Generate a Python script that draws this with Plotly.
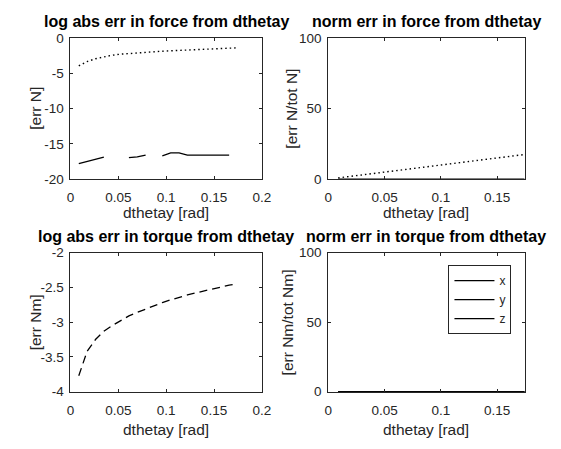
import math
import plotly.graph_objects as go

# ---------------- data ----------------
deg = [0.5, 1.0, 1.5, 2.0, 2.5, 3.0, 3.5, 4.0, 4.5, 5.0,
       5.5, 6.0, 6.5, 7.0, 7.5, 8.0, 8.5, 9.0, 9.5, 10.0]
dthetay = [d * math.pi / 180 for d in deg]

force_log_x = [-17.8, -17.5, -17.2, -16.9, None, None, -16.95, -16.85, -16.6, None,
               -16.7, -16.3, -16.3, -16.6, -16.6, -16.6, -16.6, -16.6, -16.6, None]
force_log_y = [-3.95, -3.35, -2.95, -2.65, -2.45, -2.3, -2.2, -2.1, -2.0, -1.95,
               -1.88, -1.82, -1.76, -1.7, -1.65, -1.6, -1.55, -1.5, -1.45, -1.4]

force_norm_x = [0.0] * 20
force_norm_y = [0.8, 1.7, 2.6, 3.5, 4.4, 5.2, 6.1, 7.0, 7.9, 8.7,
                9.6, 10.5, 11.3, 12.2, 13.1, 14.0, 14.8, 15.7, 16.6, 17.4]

torque_log = [-3.77, -3.42, -3.25, -3.13, -3.05, -2.98, -2.91, -2.86, -2.81, -2.76,
              -2.72, -2.68, -2.64, -2.61, -2.58, -2.55, -2.52, -2.50, -2.47, -2.45]

torque_norm_x = [0.0] * 20
torque_norm_y = [0.0] * 20
torque_norm_z = [0.0] * 20

titles = ["log abs err in force from dthetay", "norm err in force from dthetay",
          "log abs err in torque from dthetay", "norm err in torque from dthetay"]
ylabels = ["[err N]", "[err N/tot N]", "[err Nm]", "[err Nm/tot Nm]"]
xlabel = "dthetay [rad]"

# ---------------- layout geometry ----------------
W, H = 561, 449
def px(x): return x / W
def py(y): return 1 - y / H

fig = go.Figure()
BLACK = "#000000"

fig.add_trace(go.Scatter(x=dthetay, y=force_log_x, mode="lines", xaxis="x", yaxis="y",
                         line=dict(color=BLACK, width=1.3), showlegend=False, connectgaps=False))
fig.add_trace(go.Scatter(x=dthetay, y=force_log_y, mode="lines", xaxis="x", yaxis="y",
                         line=dict(color=BLACK, width=1.4, dash="1.5px,3px"), showlegend=False))

fig.add_trace(go.Scatter(x=dthetay, y=force_norm_x, mode="lines", xaxis="x2", yaxis="y2",
                         line=dict(color=BLACK, width=1.3), showlegend=False))
fig.add_trace(go.Scatter(x=dthetay, y=force_norm_y, mode="lines", xaxis="x2", yaxis="y2",
                         line=dict(color=BLACK, width=1.4, dash="1.5px,3px"), showlegend=False))

fig.add_trace(go.Scatter(x=dthetay, y=torque_log, mode="lines", xaxis="x3", yaxis="y3",
                         line=dict(color=BLACK, width=1.3, dash="8px,5px"), showlegend=False))

for name, vals in zip(["x", "y", "z"], [torque_norm_x, torque_norm_y, torque_norm_z]):
    fig.add_trace(go.Scatter(x=dthetay, y=vals, mode="lines", xaxis="x4", yaxis="y4", name=name,
                             line=dict(color=BLACK, width=1.3), showlegend=True))

axis_common = dict(showline=True, linecolor="#262626", linewidth=1, mirror="ticks",
                   ticks="inside", ticklen=3, tickcolor="#262626", showgrid=False,
                   zeroline=False, tickfont=dict(family="Liberation Sans, Arial", size=13.5, color="#262626"))

col_x = [(68, 264), (332, 533)]
row_y = [(32, 178), (254, 398)]
title_y = [15, 237]
xlab_y = [213, 437]

x_ranges = [[0, 0.2], [0, 0.1745], [0, 0.2], [0, 0.1745]]
x_ticks = [[0, 0.05, 0.1, 0.15, 0.2], [0, 0.05, 0.1, 0.15], [0, 0.05, 0.1, 0.15, 0.2], [0, 0.05, 0.1, 0.15]]
y_ranges = [[-20, 0], [0, 100], [-4, -2], [0, 100]]
y_ticks = [[-20, -15, -10, -5, 0], [0, 50, 100], [-4, -3.5, -3, -2.5, -2], [0, 50, 100]]

layout = dict(width=W, height=H, margin=dict(l=0, r=0, t=0, b=0),
              paper_bgcolor="white", plot_bgcolor="white",
              font=dict(family="Liberation Sans, Arial", color="#262626"))
annotations = []
for i in range(4):
    r, c = divmod(i, 2)
    x0, x1 = col_x[c]
    y0, y1 = row_y[r]
    sfx = "" if i == 0 else str(i + 1)
    layout["xaxis" + sfx] = dict(axis_common, domain=[px(x0), px(x1)], range=x_ranges[i],
                                 tickvals=x_ticks[i], ticktext=[f"{v:g}" for v in x_ticks[i]],
                                 anchor="y" + sfx, ticklabelstandoff=6)
    layout["yaxis" + sfx] = dict(axis_common, domain=[py(y1), py(y0)], range=y_ranges[i],
                                 tickvals=y_ticks[i], ticktext=[f"{v:g}" for v in y_ticks[i]],
                                 anchor="x" + sfx, ticklabelstandoff=3)
    annotations.append(dict(text="<b>" + titles[i] + "</b>", x=px((x0 + x1) / 2), y=py(title_y[r]),
                            xref="paper", yref="paper", showarrow=False, xanchor="center",
                            yanchor="middle", font=dict(size=16, color="#000000")))
    annotations.append(dict(text=xlabel, x=px((x0 + x1) / 2), y=py(xlab_y[r]),
                            xref="paper", yref="paper", showarrow=False, xanchor="center",
                            yanchor="middle", font=dict(size=15.5, color="#262626")))
    ylx = 32 if c == 0 else (294 if i == 1 else 290)
    annotations.append(dict(text=ylabels[i], x=px(ylx), y=py((y0 + y1) / 2), textangle=-90,
                            xref="paper", yref="paper", showarrow=False, xanchor="center",
                            yanchor="middle", font=dict(size=15.5, color="#262626")))

layout["annotations"] = annotations
layout["legend"] = dict(x=px(455), y=py(267), xanchor="left", yanchor="top",
                        bordercolor="#262626", borderwidth=1, bgcolor="white",
                        font=dict(size=12, color="#262626"), traceorder="normal",
                        itemwidth=40, tracegroupgap=0)
fig.update_layout(**layout)

fig.write_html("out.html")
